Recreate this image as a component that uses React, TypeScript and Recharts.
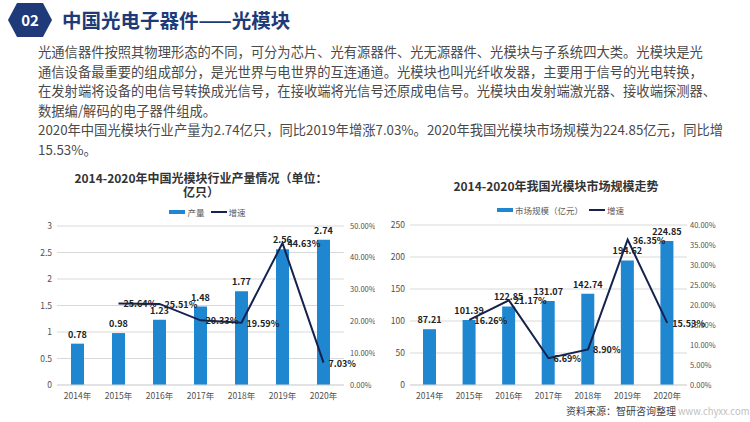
import React from "react";
import {
  ComposedChart,
  Bar,
  Line,
  XAxis,
  YAxis,
  CartesianGrid,
  Legend,
  LabelList,
} from "recharts";

const years = ["2014年", "2015年", "2016年", "2017年", "2018年", "2019年", "2020年"];
const output = [0.78, 0.98, 1.23, 1.48, 1.77, 2.56, 2.74];
const outputGrowth = [null, 25.64, 25.51, 20.33, 19.59, 44.63, 7.03];
const marketSize = [87.21, 101.39, 122.85, 131.07, 142.74, 194.62, 224.85];
const marketGrowth = [null, 16.26, 21.17, 6.69, 8.9, 36.35, 15.53];

const outputTicks = [0, 0.5, 1, 1.5, 2, 2.5, 3];
const outputPctTicks = [0, 5, 10, 15, 20, 25, 30, 35, 40, 45, 50];
const marketTicks = [0, 50, 100, 150, 200, 250];
const marketPctTicks = [0, 5, 10, 15, 20, 25, 30, 35, 40];

const paragraph = [
  "光通信器件按照其物理形态的不同，可分为芯片、光有源器件、光无源器件、光模块与子系统四大类。光模块是光",
  "通信设备最重要的组成部分，是光世界与电世界的互连通道。光模块也叫光纤收发器，主要用于信号的光电转换，",
  "在发射端将设备的电信号转换成光信号，在接收端将光信号还原成电信号。光模块由发射端激光器、接收端探测器、",
  "数据编/解码的电子器件组成。",
  "2020年中国光模块行业产量为2.74亿只，同比2019年增涨7.03%。2020年我国光模块市场规模为224.85亿元，同比增",
  "15.53%。",
];

const outputData = years.map((y, i) => ({ year: y, value: output[i], growth: outputGrowth[i] }));
const marketData = years.map((y, i) => ({ year: y, value: marketSize[i], growth: marketGrowth[i] }));

const FONT = '"Noto Sans CJK SC", "Noto Sans", sans-serif';
const BAR = "#1f87cf";
const LINE = "#15224f";
const GRID = "#d9d9d9";
const TICK = { fill: "#505050", fontSize: 8.5, fontFamily: FONT };

// legend: wide rect for bars, thin line for the growth series; bars first
const LegendContent = ({ payload }: any) => {
  const items = [...(payload || [])].sort((a: any, b: any) => (a.type === "rect" ? -1 : 1) - (b.type === "rect" ? -1 : 1));
  return (
    <div style={{ display: "flex", justifyContent: "center", gap: 6, fontFamily: FONT, fontSize: 8.5, color: "#595959" }}>
      {items.map((p: any) => (
        <span key={p.value} style={{ display: "flex", alignItems: "center", gap: 2 }}>
          <span
            style={{
              display: "inline-block",
              width: 16,
              height: p.type === "rect" ? 4 : 2,
              background: p.color,
            }}
          />
          {p.value}
        </span>
      ))}
    </div>
  );
};

const pctLabel = (props: any) => {
  const { x, y, value } = props;
  if (value == null) return null;
  return (
    <text x={x + 5} y={y + 4} fontSize={9} fontWeight={700} fill="#222" fontFamily={FONT}>
      {Number(value).toFixed(2)}%
    </text>
  );
};

type PanelProps = {
  data: any[];
  left: number;
  leftWidth: number;
  rightWidth: number;
  marginTop: number;
  legendTop: number;
  legendLeft: number;
  barName: string;
  leftTicks: number[];
  rightTicks: number[];
  rightGap: number;
  barFormat: (v: number) => string;
};

const Panel = (p: PanelProps) => (
  <div style={{ position: "absolute", left: p.left, top: 160 }}>
    <ComposedChart
      width={375}
      height={250}
      data={p.data}
      margin={{ top: p.marginTop, right: 0, bottom: 0, left: 0 }}
    >
      <CartesianGrid yAxisId="l" vertical={false} stroke={GRID} />
      <XAxis
        dataKey="year"
        height={25}
        tick={TICK}
        tickLine={false}
        axisLine={{ stroke: GRID }}
        interval={0}
      />
      <YAxis
        yAxisId="l"
        width={p.leftWidth}
        domain={[p.leftTicks[0], p.leftTicks[p.leftTicks.length - 1]]}
        ticks={p.leftTicks}
        tick={TICK}
        tickSize={0}
        tickMargin={5}
        axisLine={false}
        tickLine={false}
      />
      <YAxis
        yAxisId="r"
        orientation="right"
        width={p.rightWidth}
        domain={[0, p.rightTicks[p.rightTicks.length - 1]]}
        ticks={p.rightTicks}
        tickFormatter={(v) => `${Number(v).toFixed(2)}%`}
        tick={{ ...TICK, fontSize: 7.5, textAnchor: "start" }}
        tickSize={0}
        tickMargin={p.rightGap}
        axisLine={false}
        tickLine={false}
      />
      <Legend
        verticalAlign="middle"
        align="center"
        layout="horizontal"
        wrapperStyle={{ top: p.legendTop, left: p.legendLeft, width: 375 }}
        content={<LegendContent />}
      />
      <Bar yAxisId="l" dataKey="value" name={p.barName} fill={BAR} barSize={13} isAnimationActive={false} legendType="rect">
        <LabelList
          dataKey="value"
          position="top"
          offset={6}
          formatter={(v: any) => p.barFormat(Number(v))}
          style={{ fontSize: 9, fontWeight: 700, fill: "#222", fontFamily: FONT }}
        />
      </Bar>
      <Line
        yAxisId="r"
        dataKey="growth"
        name="增速"
        stroke={LINE}
        strokeWidth={2}
        dot={false}
        connectNulls={false}
        isAnimationActive={false}
        legendType="plainline"
      >
        <LabelList dataKey="growth" content={pctLabel} />
      </Line>
    </ComposedChart>
  </div>
);

const titleStyle: React.CSSProperties = {
  position: "absolute",
  textAlign: "center",
  fontSize: 12,
  fontWeight: 700,
  color: "#333",
  lineHeight: "14px",
  whiteSpace: "nowrap",
  zIndex: 2,
};

export default function App() {
  return (
    <div
      style={{
        position: "absolute",
        left: 0,
        top: 0,
        width: 750,
        height: 422,
        background: "#fff",
        overflow: "hidden",
        fontFamily: FONT,
      }}
    >
      <svg width={46} height={36} style={{ position: "absolute", left: 7, top: 2 }}>
        <polygon points="1,18 10,1 36,1 45,18 36,35 10,35" fill="#1f3a78" />
        <text x={23} y={24} textAnchor="middle" fill="#fff" fontSize={15} fontWeight={700} fontFamily={FONT}>
          02
        </text>
      </svg>
      <div
        style={{
          position: "absolute",
          left: 62,
          top: 6,
          fontSize: 19.5,
          fontWeight: 700,
          color: "#1d3b78",
          lineHeight: "28px",
          whiteSpace: "nowrap",
        }}
      >
        中国光电子器件——光模块
      </div>
      <div style={{ position: "absolute", left: 38, top: 42, fontSize: 13.3, color: "#4a4a4a", lineHeight: "19.5px" }}>
        {paragraph.map((t) => (
          <div key={t} style={{ whiteSpace: "nowrap" }}>
            {t}
          </div>
        ))}
      </div>

      <div style={{ ...titleStyle, left: 51, top: 171, width: 300 }}>
        2014-2020年中国光模块行业产量情况（单位：
        <br />
        亿只）
      </div>
      <div style={{ ...titleStyle, left: 406, top: 179, width: 300 }}>
        2014-2020年我国光模块市场规模走势
      </div>

      <Panel
        data={outputData}
        left={0}
        leftWidth={57}
        rightWidth={31}
        rightGap={6}
        marginTop={66}
        legendTop={46}
        legendLeft={20}
        barName="产量"
        leftTicks={outputTicks}
        rightTicks={outputPctTicks}
        barFormat={(v) => String(v)}
      />
      <Panel
        data={marketData}
        left={375}
        leftWidth={35}
        rightWidth={63}
        rightGap={3}
        marginTop={65}
        legendTop={44}
        legendLeft={-2}
        barName="市场规模（亿元）"
        leftTicks={marketTicks}
        rightTicks={marketPctTicks}
        barFormat={(v) => v.toFixed(2)}
      />

      <div style={{ position: "absolute", left: 566, top: 403, fontSize: 10, color: "#404040", whiteSpace: "nowrap" }}>
        资料来源：智研咨询整理
      </div>
      <div style={{ position: "absolute", left: 678, top: 404, fontSize: 9.5, color: "#c0c0c0", whiteSpace: "nowrap" }}>
        www.chyxx.com
      </div>
    </div>
  );
}
